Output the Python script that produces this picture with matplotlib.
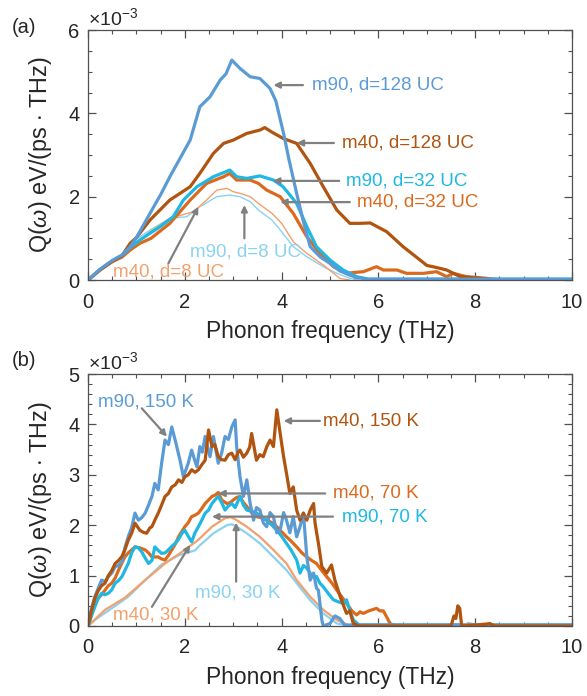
import matplotlib
matplotlib.use("Agg")
import matplotlib.pyplot as plt
from matplotlib.ticker import MultipleLocator

# -------------------------------
# Fonts
# -------------------------------
plt.rcParams['font.family'] = ['Liberation Sans', 'DejaVu Sans']
plt.rcParams['mathtext.fontset'] = 'custom'
plt.rcParams['mathtext.rm'] = 'Liberation Sans'
plt.rcParams['mathtext.it'] = 'Liberation Sans:italic'

# -------------------------------
# Panel (a) data, Q in units of 1e-3
# -------------------------------
f_a_m90_128 = [0, 0.25, 0.5, 0.7, 0.87, 1.0, 1.28, 1.5, 1.69, 1.9, 2.11, 2.31, 2.52, 2.73, 2.85, 2.97,
               3.14, 3.35, 3.55, 3.76, 3.88, 4.04, 4.15, 4.31, 4.45, 4.59, 4.8, 5.0, 5.2, 5.4, 5.55, 5.8, 10]
q_a_m90_128 = [0, 0.26, 0.47, 0.6, 0.8, 1.02, 1.6, 2.05, 2.48, 2.92, 3.36, 4.16, 4.4, 4.8, 4.95, 5.28,
               5.08, 4.88, 4.84, 4.6, 4.3, 3.52, 2.9, 2.08, 1.4, 0.8, 0.55, 0.4, 0.22, 0.12, 0.06, 0.02, 0.02]

f_a_m40_128 = [0, 0.25, 0.5, 0.7, 0.87, 1.0, 1.28, 1.69, 2.11, 2.31, 2.59, 2.8, 3.0, 3.28, 3.55, 3.65,
               3.8, 4.03, 4.31, 4.59, 4.86, 5.14, 5.41, 5.6, 5.83, 6.17, 6.51, 6.86, 7.0, 7.2, 7.41,
               7.69, 8.1, 8.4, 10]
q_a_m40_128 = [0, 0.25, 0.45, 0.58, 0.88, 1.02, 1.44, 1.92, 2.24, 2.56, 3.04, 3.28, 3.36, 3.52, 3.6, 3.66,
               3.55, 3.4, 3.28, 2.8, 2.24, 1.68, 1.36, 1.36, 1.37, 1.16, 0.8, 0.48, 0.35, 0.3, 0.24,
               0.08, 0.04, 0.0, 0.0]

f_a_m90_32 = [0, 0.25, 0.5, 0.7, 0.87, 1.07, 1.25, 1.49, 1.76, 1.97, 2.25, 2.59, 2.93, 3.07, 3.28, 3.55,
              3.83, 4.03, 4.31, 4.52, 4.72, 5.0, 5.27, 5.55, 5.8, 10]
q_a_m90_32 = [0, 0.25, 0.46, 0.58, 0.78, 0.96, 1.1, 1.28, 1.52, 1.92, 2.24, 2.48, 2.64, 2.48, 2.44, 2.5,
              2.4, 2.24, 1.84, 1.28, 0.8, 0.48, 0.24, 0.08, 0.02, 0.02]

f_a_m40_32 = [0, 0.25, 0.5, 0.7, 0.87, 1.07, 1.3, 1.69, 2.11, 2.45, 2.8, 2.93, 3.07, 3.35, 3.52, 3.69,
              3.97, 4.24, 4.52, 4.79, 5.07, 5.34, 5.5, 5.69, 5.96, 6.1, 6.38, 6.58, 6.93, 7.2, 7.41,
              7.55, 7.82, 8.24, 8.5, 10]
q_a_m40_32 = [0, 0.24, 0.44, 0.55, 0.72, 0.88, 1.0, 1.36, 1.92, 2.32, 2.48, 2.56, 2.4, 2.4, 2.32, 2.16,
              2.0, 1.6, 1.04, 0.64, 0.32, 0.16, 0.18, 0.2, 0.32, 0.24, 0.24, 0.16, 0.16, 0.2, 0.08,
              0.16, 0.08, 0.04, 0, 0]

f_a_m90_8 = [0, 0.25, 0.5, 0.7, 0.87, 1.0, 1.28, 1.69, 2.04, 2.31, 2.66, 2.93, 3.14, 3.35, 3.52, 3.8,
             4.0, 4.24, 4.52, 4.86, 5.14, 5.41, 5.6]
q_a_m90_8 = [0, 0.26, 0.46, 0.6, 0.8, 0.98, 1.2, 1.48, 1.52, 1.76, 2.0, 2.04, 2.0, 1.88, 1.68, 1.44,
             1.16, 0.8, 0.56, 0.32, 0.16, 0.04, 0]

f_a_m40_8 = [0, 0.25, 0.5, 0.7, 0.87, 1.0, 1.28, 1.69, 2.18, 2.45, 2.66, 2.87, 3.0, 3.14, 3.35, 3.52,
             3.8, 4.0, 4.24, 4.52, 4.86, 5.2, 5.4]
q_a_m40_8 = [0, 0.22, 0.42, 0.55, 0.7, 0.85, 1.16, 1.48, 1.64, 1.92, 2.16, 2.2, 2.12, 2.08, 2.0, 1.84,
             1.6, 1.36, 0.92, 0.64, 0.36, 0.04, 0]

# -------------------------------
# Panel (b) data, Q in units of 1e-3
# -------------------------------
f_b_m90_150 = [0, 0.07, 0.14, 0.21, 0.28, 0.35, 0.42, 0.49, 0.56, 0.63, 0.7, 0.76, 0.83, 0.9, 0.97,
               1.04, 1.11, 1.18, 1.25, 1.32, 1.38, 1.45, 1.52, 1.59, 1.66, 1.73, 1.8, 1.9, 1.97, 2.07,
               2.14, 2.2, 2.25, 2.31, 2.36, 2.42, 2.47, 2.52, 2.59, 2.64, 2.69, 2.76, 2.83, 2.9, 2.97,
               3.04, 3.07, 3.14, 3.21, 3.28, 3.35, 3.42, 3.48, 3.55, 3.62, 3.69, 3.76, 3.83, 3.9, 3.97,
               4.04, 4.1, 4.17, 4.24, 4.31, 4.38, 4.45, 4.52, 4.59, 4.66, 4.72, 4.76, 4.83, 4.86, 5.0,
               5.1, 5.2, 5.3, 5.5, 10]
q_b_m90_150 = [0, 0.35, 0.58, 0.75, 0.91, 0.88, 0.98, 1.05, 1.18, 1.2, 1.28, 1.55, 1.77, 1.95, 2.24,
               2.1, 2.15, 2.24, 2.4, 2.57, 2.83, 2.7, 3.23, 3.69, 3.6, 3.95, 3.69, 3.29, 2.96, 3.23,
               3.49, 3.3, 3.16, 3.56, 3.45, 3.76, 3.55, 3.36, 3.76, 3.5, 3.23, 3.43, 3.76, 3.7, 3.95,
               4.09, 3.56, 2.96, 2.57, 2.9, 2.43, 2.1, 2.35, 2.3, 2.05, 1.97, 2.25, 2.17, 1.85, 1.9,
               2.25, 2.1, 1.85, 2.17, 1.77, 1.97, 2.24, 1.37, 0.91, 1.05, 0.75, 0.71, 0.12, 0.0, 0.05,
               0.2, 0.15, 0.02, 0.02, 0.02]

f_b_m40_150 = [0, 0.07, 0.14, 0.21, 0.28, 0.35, 0.42, 0.49, 0.56, 0.63, 0.7, 0.76, 0.83, 0.9, 0.97,
               1.07, 1.14, 1.21, 1.28, 1.32, 1.38, 1.45, 1.52, 1.59, 1.66, 1.73, 1.8, 1.87, 1.94, 2.0,
               2.07, 2.14, 2.21, 2.28, 2.35, 2.42, 2.49, 2.56, 2.62, 2.69, 2.76, 2.83, 2.9, 2.97, 3.04,
               3.1, 3.14, 3.21, 3.28, 3.34, 3.38, 3.44, 3.48, 3.55, 3.62, 3.69, 3.76, 3.83, 3.9, 3.97,
               4.04, 4.1, 4.17, 4.24, 4.28, 4.31, 4.38, 4.45, 4.52, 4.59, 4.66, 4.69, 4.76, 4.83, 4.93,
               5.03, 5.1, 5.21, 5.34, 5.41, 5.48, 5.6, 7.5, 7.56, 7.6, 7.64, 7.68, 7.72, 8.2, 8.3,
               8.4, 10]
q_b_m40_150 = [0, 0.3, 0.55, 0.7, 0.8, 0.85, 1.0, 1.1, 1.24, 1.3, 1.38, 1.51, 1.7, 1.84, 2.04,
               1.9, 1.86, 1.84, 1.95, 1.97, 2.1, 2.24, 2.4, 2.57, 2.63, 2.76, 2.8, 2.9, 2.85, 2.96,
               3.0, 3.1, 3.05, 3.1, 3.2, 3.29, 3.89, 3.56, 3.6, 3.36, 3.3, 3.29, 3.4, 3.43, 3.3,
               3.45, 3.49, 3.35, 3.43, 3.55, 3.82, 3.5, 3.29, 3.4, 3.36, 3.55, 3.69, 3.56, 4.29, 3.82,
               3.36, 3.03, 2.63, 2.76, 2.5, 2.3, 2.1, 2.24, 2.1, 2.3, 2.43, 2.04, 1.64, 1.18, 1.05,
               1.21, 0.91, 0.58, 0.25, 0.3, 0.05, 0.0, 0.0, 0.2, 0.15, 0.4, 0.35, 0.0, 0.03, 0.05,
               0.0, 0.0]

f_b_m40_70 = [0, 0.14, 0.21, 0.28, 0.35, 0.42, 0.49, 0.56, 0.63, 0.7, 0.76, 0.83, 0.97, 1.07, 1.18,
              1.25, 1.32, 1.45, 1.52, 1.59, 1.66, 1.73, 1.8, 1.87, 1.94, 2.0, 2.07, 2.14, 2.21, 2.28,
              2.35, 2.42, 2.49, 2.56, 2.63, 2.69, 2.76, 2.87, 2.94, 3.0, 3.07, 3.14, 3.21, 3.28, 3.38,
              3.48, 3.58, 3.69, 3.8, 3.9, 4.0, 4.1, 4.2, 4.31, 4.42, 4.52, 4.62, 4.72, 4.83, 4.93,
              5.04, 5.14, 5.24, 5.34, 5.45, 5.55, 5.62, 5.69, 5.8, 5.96, 6.03, 6.1, 6.17, 6.24, 6.31,
              6.5, 10]
q_b_m40_70 = [0, 0.45, 0.55, 0.62, 0.71, 0.8, 0.85, 0.95, 1.11, 1.25, 1.37, 1.45, 1.57, 1.55, 1.51,
              1.45, 1.37, 1.37, 1.33, 1.31, 1.4, 1.51, 1.62, 1.77, 1.88, 1.97, 2.05, 2.17, 2.2, 2.24,
              2.33, 2.43, 2.5, 2.57, 2.6, 2.65, 2.5, 2.43, 2.45, 2.5, 2.55, 2.57, 2.45, 2.37, 2.25,
              2.17, 2.15, 2.1, 2.05, 1.97, 1.87, 1.77, 1.68, 1.57, 1.45, 1.37, 1.3, 1.24, 1.1, 0.98,
              0.85, 0.71, 0.58, 0.45, 0.3, 0.22, 0.28, 0.25, 0.3, 0.35, 0.3, 0.3, 0.18, 0.05, 0.02,
              0, 0]

f_b_m90_70 = [0, 0.07, 0.14, 0.21, 0.28, 0.35, 0.42, 0.49, 0.56, 0.63, 0.7, 0.76, 0.83, 0.9, 0.97,
              1.04, 1.11, 1.18, 1.25, 1.32, 1.38, 1.45, 1.52, 1.59, 1.66, 1.73, 1.8, 1.87, 1.94, 2.0,
              2.07, 2.14, 2.21, 2.28, 2.35, 2.42, 2.49, 2.56, 2.62, 2.69, 2.76, 2.83, 2.9, 2.97, 3.04,
              3.14, 3.21, 3.28, 3.38, 3.48, 3.58, 3.69, 3.8, 3.9, 4.0, 4.1, 4.2, 4.31, 4.38, 4.45,
              4.52, 4.62, 4.72, 4.79, 4.86, 4.96, 5.07, 5.17, 5.27, 5.34, 5.41, 5.48, 5.6, 10]
q_b_m90_70 = [0, 0.2, 0.38, 0.55, 0.65, 0.62, 0.65, 0.72, 0.85, 0.9, 0.98, 1.1, 1.24, 1.45, 1.57,
              1.55, 1.47, 1.35, 1.24, 1.3, 1.57, 1.5, 1.44, 1.45, 1.51, 1.58, 1.64, 1.72, 1.84, 1.9,
              1.78, 1.67, 1.85, 1.97, 2.1, 2.24, 2.3, 2.43, 2.5, 2.57, 2.45, 2.3, 2.38, 2.43, 2.35,
              2.57, 2.4, 2.3, 2.28, 2.24, 2.18, 2.1, 2.0, 1.9, 1.78, 1.64, 1.5, 1.31, 1.05, 1.2,
              1.15, 1.0, 0.98, 0.85, 0.78, 0.65, 0.52, 0.48, 0.45, 0.52, 0.3, 0.12, 0.02, 0.02]

f_b_m40_30 = [0, 0.35, 0.76, 1.18, 1.59, 2.0, 2.28, 2.56, 2.83, 2.95, 3.07, 3.28, 3.55, 3.83, 4.1,
              4.31, 4.59, 4.86, 5.14, 5.41, 7.8, 7.85, 8.0, 8.2, 8.4, 10]
q_b_m40_30 = [0, 0.32, 0.56, 0.91, 1.24, 1.51, 1.71, 1.97, 2.14, 2.16, 2.1, 1.97, 1.77, 1.51, 1.24,
              0.91, 0.58, 0.32, 0.12, 0.0, 0.0, 0.06, 0.03, 0.05, 0.0, 0]

f_b_m90_30 = [0, 0.14, 0.49, 0.83, 1.18, 1.52, 1.87, 2.21, 2.31, 2.59, 2.87, 2.97, 3.07, 3.28, 3.55,
              3.83, 4.1, 4.31, 4.59, 4.86, 5.14, 5.4, 10]
q_b_m90_30 = [0, 0.12, 0.35, 0.58, 0.91, 1.22, 1.4, 1.5, 1.6, 1.84, 2.0, 2.02, 1.97, 1.84, 1.64,
              1.37, 1.11, 0.85, 0.51, 0.25, 0.05, 0, 0]

# colours
c_blue = '#5B9BD5'
c_brown = '#B0540F'
c_cyan = '#1EB8E3'
c_orange = '#DC6A1E'
c_lblue = '#8AD3F0'
c_lorange = '#F3A06C'
c_arrow = '#808080'

# -------------------------------
# Figure
# -------------------------------
fig = plt.figure(figsize=(5.87, 6.96), dpi=100)
ax_a = fig.add_axes([0.150, 0.5977, 0.8245, 0.359])
ax_b = fig.add_axes([0.150, 0.1006, 0.8245, 0.362])

thick = 2.3
thin = 1.0

ax_a.plot(f_a_m90_8, q_a_m90_8, color=c_lblue, lw=thin)
ax_a.plot(f_a_m40_8, q_a_m40_8, color=c_lorange, lw=thin)
ax_a.plot(f_a_m40_32, q_a_m40_32, color=c_orange, lw=thick)
ax_a.plot(f_a_m90_32, q_a_m90_32, color=c_cyan, lw=thick)
ax_a.plot(f_a_m40_128, q_a_m40_128, color=c_brown, lw=thick)
ax_a.plot(f_a_m90_128, q_a_m90_128, color=c_blue, lw=thick)

ax_b.plot(f_b_m90_30, q_b_m90_30, color=c_lblue, lw=1.6)
ax_b.plot(f_b_m40_30, q_b_m40_30, color=c_lorange, lw=1.6)
ax_b.plot(f_b_m40_70, q_b_m40_70, color=c_orange, lw=thick)
ax_b.plot(f_b_m90_70, q_b_m90_70, color=c_cyan, lw=thick)
ax_b.plot(f_b_m90_150, q_b_m90_150, color=c_blue, lw=thick)
ax_b.plot(f_b_m40_150, q_b_m40_150, color=c_brown, lw=thick)

# -------------------------------
# Annotations: (text, text x, text y, tail, tip, colour)
# -------------------------------
notes_a = [
    ("m90, d=128 UC", 4.62, 4.68, (4.44, 4.68), (3.83, 4.68), c_blue),
    ("m40, d=128 UC", 5.24, 3.29, (5.08, 3.29), (4.31, 3.29), c_brown),
    ("m90, d=32 UC", 5.33, 2.38, (5.19, 2.38), (3.82, 2.38), c_cyan),
    ("m40, d=32 UC", 5.56, 1.87, (5.41, 1.87), (3.97, 1.87), c_orange),
    ("m90, d=8 UC", 2.11, 0.68, (3.23, 1.0), (3.23, 1.8), c_lblue),
    ("m40, d=8 UC", 0.52, 0.2, (1.66, 0.4), (2.28, 1.76), c_lorange),
]
notes_b = [
    ("m90, 150 K", 0.21, 4.44, (1.11, 4.32), (1.63, 3.76), c_blue),
    ("m40, 150 K", 4.86, 4.07, (4.79, 4.07), (4.04, 4.07), c_brown),
    ("m40, 70 K", 5.06, 2.63, (4.9, 2.63), (2.69, 2.63), c_orange),
    ("m90, 70 K", 5.24, 2.17, (5.06, 2.17), (2.56, 2.17), c_cyan),
    ("m90, 30 K", 2.2, 0.65, (3.06, 0.88), (3.06, 2.05), c_lblue),
    ("m40, 30 K", 0.51, 0.22, (1.32, 0.38), (2.11, 1.61), c_lorange),
]

for ax, notes in [(ax_a, notes_a), (ax_b, notes_b)]:
    for txt, tx, ty, tail, tip, col in notes:
        ax.annotate('', xy=tip, xytext=tail,
                    arrowprops=dict(arrowstyle='-|>', color=c_arrow, lw=1.6,
                                    mutation_scale=9, shrinkA=0, shrinkB=0))
        ax.text(tx, ty, txt, color=col, fontsize=13.5, va='center', ha='left')

# -------------------------------
# Axes styling
# -------------------------------
panels = [(ax_a, 6, 2, 0.5, '(a)', 1.012), (ax_b, 5, 1, 0.2, '(b)', 1.052)]
for ax, ymax, ystep, yminor, lab, lab_y in panels:
    ax.set_xlim(0, 10)
    ax.set_ylim(0, ymax)
    ax.set_xticks([0, 2, 4, 6, 8, 10])
    ax.set_yticks(list(range(0, ymax + 1, ystep)))
    ax.xaxis.set_minor_locator(MultipleLocator(0.5))
    ax.yaxis.set_minor_locator(MultipleLocator(yminor))
    ax.tick_params(which='both', direction='in', top=True, right=True,
                   colors='#505050', labelcolor='#262626', labelsize=14.5)
    ax.tick_params(which='major', length=6, width=0.9)
    ax.tick_params(which='minor', length=3, width=0.8)
    ax.tick_params(axis='x', pad=9)
    ax.tick_params(axis='y', pad=6)
    for s in ax.spines.values():
        s.set_color('#505050')
        s.set_linewidth(0.9)
    ax.set_xlabel('Phonon frequency (THz)', fontsize=16.4, color='#262626', labelpad=6)
    ax.set_ylabel(r'Q($\omega$) eV/(ps $\cdot$ THz)', fontsize=16.8, color='#262626')
    ax.yaxis.set_label_coords(-0.07, 0.5)
    ax.text(0.0, 1.005, r'$\times10^{-3}$', transform=ax.transAxes, fontsize=14,
            color='#262626', ha='left', va='bottom')
    ax.text(-0.158, lab_y, lab, transform=ax.transAxes, fontsize=14.5,
            color='#262626', ha='left', va='center')

fig.savefig("out.png", dpi=100)
